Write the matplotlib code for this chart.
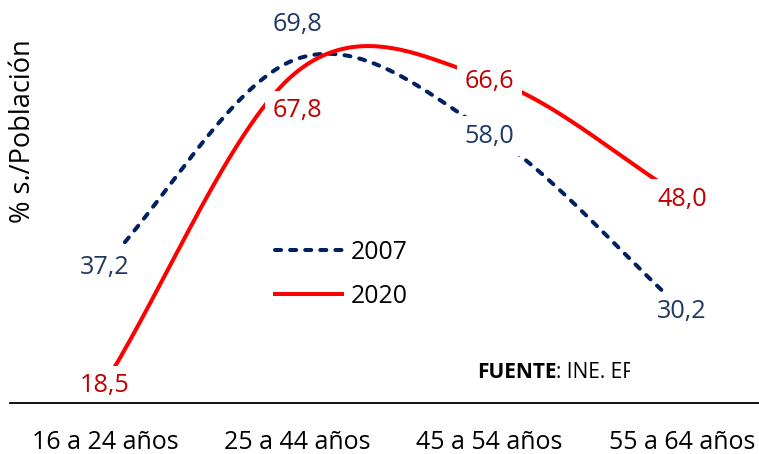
import numpy as np
import matplotlib.pyplot as plt
from matplotlib.transforms import Bbox

plt.rcParams['font.family'] = ['Open Sans', 'DejaVu Sans']

# data
grupos = ['16 a 24 años', '25 a 44 años', '45 a 54 años', '55 a 64 años']
tasa_2007 = [37.2, 69.8, 58.0, 30.2]
tasa_2020 = [18.5, 67.8, 66.6, 48.0]
etiq_2007 = ['37,2', '69,8', '58,0', '30,2']
etiq_2020 = ['18,5', '67,8', '66,6', '48,0']

AZUL = '#002060'
AZUL_TXT = '#1F3864'
ROJO = '#FF0000'
ROJO_TXT = '#C00000'

W, H = 759, 454


def smooth(vals, n=80):
    # catmull-rom like the "smoothed line" of a spreadsheet
    p = np.asarray(vals, float)
    m = np.empty_like(p)
    m[1:-1] = (p[2:] - p[:-2]) / 2
    m[0] = p[1] - p[0]
    m[-1] = p[-1] - p[-2]
    xs, ys = [], []
    t = np.linspace(0, 1, n)
    h00 = 2*t**3 - 3*t**2 + 1
    h10 = t**3 - 2*t**2 + t
    h01 = -2*t**3 + 3*t**2
    h11 = t**3 - t**2
    for i in range(len(p) - 1):
        xs.append(i + t)
        ys.append(h00*p[i] + h10*m[i] + h01*p[i+1] + h11*m[i+1])
    return np.concatenate(xs), np.concatenate(ys)


fig = plt.figure(figsize=(W/100, H/100), dpi=100)
ax = fig.add_axes([10/W, 51/H, (W-10)/W, 403/H])

x7, y7 = smooth(tasa_2007)
x20, y20 = smooth(tasa_2020)
ax.plot(x7, y7, color=AZUL, lw=2.9, ls=(0, (1.5, 2.25)), dash_capstyle='round', label='2007')
ax.plot(x20, y20, color=ROJO, lw=2.9, label='2020')

ax.set_xlim(-0.494, 3.401)
ax.set_ylim(15.35, 79.1)

# labels centred on the points, except the second group (above / below)
off_2007 = [-6.6, 20.0, -6.6, -6.6]
off_2020 = [-6.6, -32.9, -6.6, -6.6]
for i in range(4):
    ax.annotate(etiq_2007[i], (i, tasa_2007[i]), xytext=(0, off_2007[i]),
                textcoords='offset points', ha='center', va='baseline',
                fontsize=18.2, color=AZUL_TXT, zorder=5,
                bbox=dict(boxstyle='square,pad=0.3', fc='white', ec='none'))
    ax.annotate(etiq_2020[i], (i, tasa_2020[i]), xytext=(0, off_2020[i]),
                textcoords='offset points', ha='center', va='baseline',
                fontsize=18.2, color=ROJO_TXT, zorder=5,
                bbox=dict(boxstyle='square,pad=0.3', fc='white', ec='none'))

ax.set_xticks(range(4), grupos, fontsize=18)
ax.tick_params(axis='x', length=0, pad=19.5)
ax.set_yticks([])
for s in ['left', 'right', 'top']:
    ax.spines[s].set_visible(False)
ax.spines['bottom'].set_linewidth(1.3)
ax.spines['bottom'].set_color('black')
ax.spines['bottom'].set_zorder(6)

fig.text(23/W, 1 - 131/H, '% s./Población', rotation=90, ha='center', va='center',
         fontsize=19.5)

leg = ax.legend(loc='upper left', bbox_to_anchor=(275/W, 1 - 240/H),
                bbox_transform=fig.transFigure, frameon=False, borderpad=0,
                borderaxespad=0, handlelength=2.72, handletextpad=0.36,
                labelspacing=0.77, fontsize=17.8)

# source note, cut off at the right as in the original
clip = Bbox([[0, 0], [630, H]])
t1 = fig.text(477/W, 76/H, 'FUENTE', fontsize=15, fontweight='bold', va='baseline')
t2 = fig.text(556/W, 76/H, ': INE. EPA', fontsize=15, va='baseline')
t2.set_clip_box(clip)
t2.set_clip_on(True)

fig.savefig('out.png', dpi=100)
